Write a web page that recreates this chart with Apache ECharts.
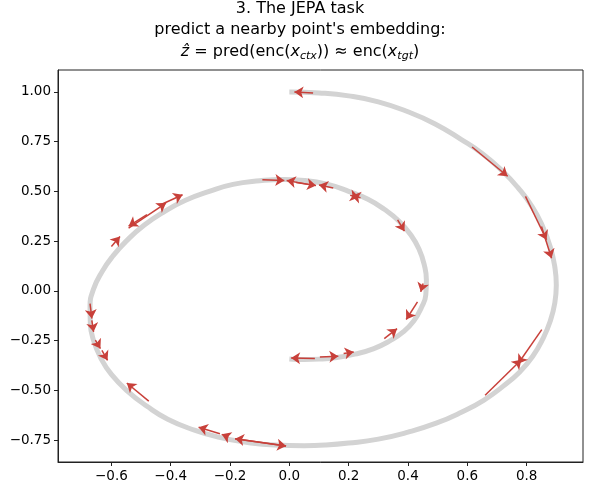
<!DOCTYPE html><html><head><meta charset="utf-8"><script src="https://cdn.jsdelivr.net/npm/echarts@6/dist/echarts.min.js"></script></head><body style="margin:0"><div id="c" style="width:600px;height:504px"></div><script>
const spiralX=[0,0.1,0.2,0.3,0.4,0.49,0.58,0.65,0.72,0.77,0.82,0.855,0.88,0.895,0.9,0.895,0.88,0.855,0.82,0.775,0.72,0.655,0.58,0.495,0.4,0.3,0.2,0.12,0.05,-0.05,-0.15,-0.24,-0.32,-0.41,-0.48,-0.545,-0.6,-0.635,-0.66,-0.671,-0.672,-0.66,-0.63,-0.595,-0.55,-0.49,-0.42,-0.35,-0.27,-0.19,-0.1,-0.02,0.05,0.13,0.2,0.265,0.32,0.37,0.41,0.437,0.455,0.462,0.46,0.445,0.42,0.385,0.34,0.285,0.22,0.16,0.1,0.05,0.0];
const spiralY=[1.0,0.995,0.98,0.95,0.9,0.84,0.76,0.69,0.6,0.52,0.42,0.32,0.22,0.12,0.03,-0.06,-0.15,-0.24,-0.33,-0.41,-0.48,-0.55,-0.61,-0.665,-0.71,-0.745,-0.765,-0.775,-0.778,-0.775,-0.76,-0.735,-0.7,-0.645,-0.58,-0.505,-0.42,-0.34,-0.25,-0.165,-0.08,0.01,0.1,0.175,0.25,0.33,0.4,0.455,0.5,0.535,0.553,0.56,0.555,0.535,0.5,0.46,0.41,0.35,0.28,0.21,0.13,0.055,-0.02,-0.085,-0.15,-0.205,-0.25,-0.29,-0.318,-0.335,-0.343,-0.345,-0.342];
const arrowFrom=[[0.08,0.995],[0.616,0.723],[0.796,0.475],[0.85,0.324],[-0.091,0.559],[0.068,0.534],[0.148,0.517],[0.023,0.545],[0.205,0.48],[0.24,0.468],[0.365,0.357],[-0.6,0.223],[-0.542,0.315],[-0.434,0.433],[-0.48,0.383],[0.451,0.037],[0.432,-0.055],[0.32,-0.24],[0.086,-0.34],[0.103,-0.332],[0.183,-0.315],[0.851,-0.195],[0.66,-0.525],[-0.672,-0.064],[-0.666,-0.148],[-0.654,-0.248],[-0.632,-0.299],[-0.474,-0.554],[-0.234,-0.718],[-0.205,-0.735],[-0.183,-0.743],[-0.011,-0.78]];
const arrowTo=[[0.017,1.0],[0.736,0.576],[0.867,0.257],[0.884,0.164],[-0.017,0.555],[-0.009,0.555],[0.1,0.532],[0.09,0.53],[0.235,0.47],[0.21,0.478],[0.388,0.3],[-0.571,0.273],[-0.416,0.441],[-0.36,0.483],[-0.542,0.325],[0.443,-0.005],[0.394,-0.144],[0.363,-0.19],[0.006,-0.337],[0.165,-0.329],[0.217,-0.307],[0.771,-0.366],[0.782,-0.346],[-0.666,-0.139],[-0.66,-0.206],[-0.637,-0.29],[-0.613,-0.349],[-0.548,-0.463],[-0.306,-0.685],[-0.228,-0.721],[-0.011,-0.78],[-0.183,-0.743]];
const xTicks=[-0.6,-0.4,-0.2,0.0,0.2,0.4,0.6,0.8];
const yTicks=[-0.75,-0.5,-0.25,0,0.25,0.5,0.75,1.0];
const fmt=(v,d)=>(v<0?'\u2212':'')+Math.abs(v).toFixed(d);
const ch=echarts.init(document.getElementById('c'));
const T={fontFamily:'DejaVu Sans',fontSize:16,fill:'#000'};
const lab={color:'#000',fontSize:13.5,fontFamily:'DejaVu Sans',margin:7};
ch.setOption({animation:false,
graphic:[
{type:'text',left:'center',top:1,style:Object.assign({text:'3. The JEPA task'},T)},
{type:'text',left:'center',top:22,style:Object.assign({text:'predict a nearby point\'s embedding:'},T)},
{type:'text',left:'center',top:44,style:Object.assign({text:'{i|ẑ} = pred(enc({i|x}{s|ctx})) ≈ enc({i|x}{s|tgt})',rich:{i:{fontStyle:'italic',fontSize:16,fontFamily:'DejaVu Sans'},s:{fontStyle:'italic',fontSize:11,verticalAlign:'bottom',padding:[9,0,0,0],fontFamily:'DejaVu Sans'}}},T)}
],
grid:{left:58,right:17,top:70,bottom:42,show:true,borderColor:'#222',borderWidth:1},
xAxis:{type:'value',min:-0.78,max:0.99,splitLine:{show:false},axisLine:{show:true,onZero:false,lineStyle:{color:'#222'}},
 axisTick:{show:true,customValues:xTicks,length:4,lineStyle:{color:'#222'}},
 axisLabel:Object.assign({customValues:xTicks,formatter:v=>fmt(v,1)},lab)},
yAxis:{type:'value',min:-0.86,max:1.11,splitLine:{show:false},axisLine:{show:true,onZero:false,lineStyle:{color:'#222'}},
 axisTick:{show:true,customValues:yTicks,length:4,lineStyle:{color:'#222'}},
 axisLabel:Object.assign({customValues:yTicks,formatter:v=>fmt(v,2)},lab)},
series:[
{type:'line',z:1,data:spiralX.map((x,i)=>[x,spiralY[i]]),smooth:true,showSymbol:false,lineStyle:{color:'#d3d3d3',width:5}},
{type:'lines',z:5,coordinateSystem:'cartesian2d',data:arrowFrom.map((f,i)=>({coords:[f,arrowTo[i]]})),symbol:['none','arrow'],symbolSize:[7,9],lineStyle:{color:'#c8403a',width:1.5,opacity:1}}
]});
</script></body></html>
